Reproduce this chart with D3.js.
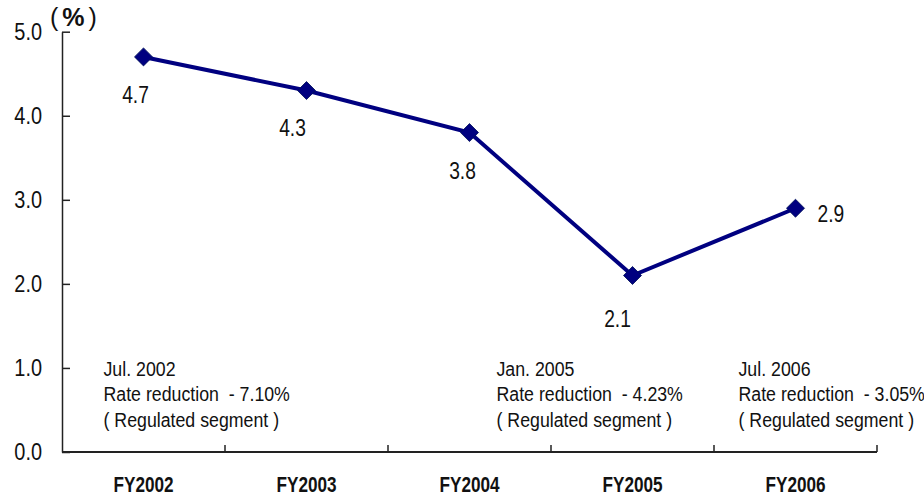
<!DOCTYPE html>
<html>
<head>
<meta charset="utf-8">
<script src="https://cdn.jsdelivr.net/npm/d3@7"></script>
<style>
  body { margin: 0; background: #fff; }
  text { font-family: "Liberation Sans", Arial, sans-serif; fill: #111; }
</style>
</head>
<body>
<div id="chart"></div>
<script>
const years = ['FY2002', 'FY2003', 'FY2004', 'FY2005', 'FY2006'];
const values = [4.7, 4.3, 3.8, 2.1, 2.9];
const yTicks = [0, 1, 2, 3, 4, 5];
const noteDates = ['Jul. 2002', 'Jan. 2005', 'Jul. 2006'];
const noteRates = ['- 7.10%', '- 4.23%', '- 3.05%'];

const WIDTH = 924;
const HEIGHT = 497;
const MARGIN = { TOP: 31.7, RIGHT: 47, BOTTOM: 45, LEFT: 62 };
const innerW = WIDTH - MARGIN.LEFT - MARGIN.RIGHT;
const innerH = 452 - MARGIN.TOP;
const NAVY = '#000080';
const AXIS = '#222';

// the source font is a narrow face; squeeze Liberation Sans horizontally
const narrow = (sel, s) =>
  sel.each(function () {
    const t = d3.select(this);
    const tx = +t.attr('x') || 0;
    const ty = +t.attr('y') || 0;
    t.attr('x', 0).attr('y', 0)
      .attr('transform', `translate(${tx}, ${ty}) scale(${s}, 1)`);
  });

const svg = d3.select('#chart')
  .append('svg')
  .attr('width', WIDTH)
  .attr('height', HEIGHT);

const g = svg.append('g')
  .attr('transform', `translate(${MARGIN.LEFT}, ${MARGIN.TOP})`);

const x = d3.scaleBand().domain(years).range([0, innerW]);
const y = d3.scaleLinear().domain([0, 5]).range([innerH, 0]);
const cx = (i) => x(years[i]) + x.bandwidth() / 2;

// y axis
const yAxis = g.append('g')
  .call(d3.axisLeft(y).tickValues(yTicks).tickFormat(d3.format('.1f')).tickSizeOuter(0).tickPadding(20));
yAxis.select('.domain').attr('stroke', AXIS).attr('stroke-width', 1.5);
yAxis.selectAll('.tick line').attr('stroke', AXIS).attr('stroke-width', 1.5).attr('x2', 8);
yAxis.selectAll('.tick text')
  .attr('x', -20)
  .attr('fill', '#111')
  .style('font-size', '24px')
  .call(narrow, 0.83);

// x axis: ticks at band boundaries
const xAxisG = g.append('g').attr('transform', `translate(0, ${innerH})`);
xAxisG.append('line')
  .attr('x1', 0).attr('x2', innerW)
  .attr('stroke', AXIS).attr('stroke-width', 2);
xAxisG.selectAll('.bound')
  .data(years.slice(1).map((d) => x(d)).concat([innerW]))
  .join('line')
  .attr('x1', (d) => d).attr('x2', (d) => d)
  .attr('y1', 0).attr('y2', -7)
  .attr('stroke', AXIS).attr('stroke-width', 1.5);
xAxisG.selectAll('.cat')
  .data(years)
  .join('text')
  .attr('x', (d) => x(d) + x.bandwidth() / 2)
  .attr('y', 40)
  .attr('text-anchor', 'middle')
  .style('font-size', '22px')
  .style('font-weight', 'bold')
  .text((d) => d)
  .call(narrow, 0.78);

// unit label
const unit = svg.append('text')
  .attr('x', 50).attr('y', 26)
  .style('font-size', '25px');
unit.append('tspan').text('(');
unit.append('tspan').attr('dx', 4).style('font-weight', 'bold').text('%');
unit.append('tspan').attr('dx', 4).text(')');

// line
g.append('path')
  .datum(values)
  .attr('fill', 'none')
  .attr('stroke', NAVY)
  .attr('stroke-width', 4)
  .attr('d', d3.line().x((d, i) => cx(i)).y((d) => y(d)));

// markers
g.selectAll('.pt')
  .data(values)
  .join('path')
  .attr('d', d3.symbol(d3.symbolSquare, 162))
  .attr('transform', (d, i) => `translate(${cx(i)}, ${y(d)}) rotate(45)`)
  .attr('fill', NAVY)
  .attr('stroke', '#00105a')
  .attr('stroke-width', 0.8);

// value labels (Excel put them below, except the last one to the right)
const labelDx = [-8, -14, -7, -15, 22];
const labelDy = [46, 45, 46, 52, 14];
g.selectAll('.val')
  .data(values)
  .join('text')
  .attr('x', (d, i) => cx(i) + labelDx[i])
  .attr('y', (d, i) => y(d) + labelDy[i])
  .attr('text-anchor', (d, i) => (i === 4 ? 'start' : 'middle'))
  .style('font-size', '24px')
  .text((d) => d.toFixed(1))
  .call(narrow, 0.8);

// rate reduction notes
const noteLeft = [103.5, 496.5, 738.5];
noteDates.forEach((date, i) => {
  const lines = [date, `Rate reduction  ${noteRates[i]}`, '( Regulated segment )'];
  g.selectAll(null)
    .data(lines)
    .join('text')
    .attr('x', noteLeft[i] - MARGIN.LEFT)
    .attr('y', (d, j) => y(1) + 8 + j * 25.5)
    .style('font-size', '21px')
    .style('white-space', 'pre')
    .text((d) => d)
    .call(narrow, 0.845);
});
</script>
</body>
</html>
